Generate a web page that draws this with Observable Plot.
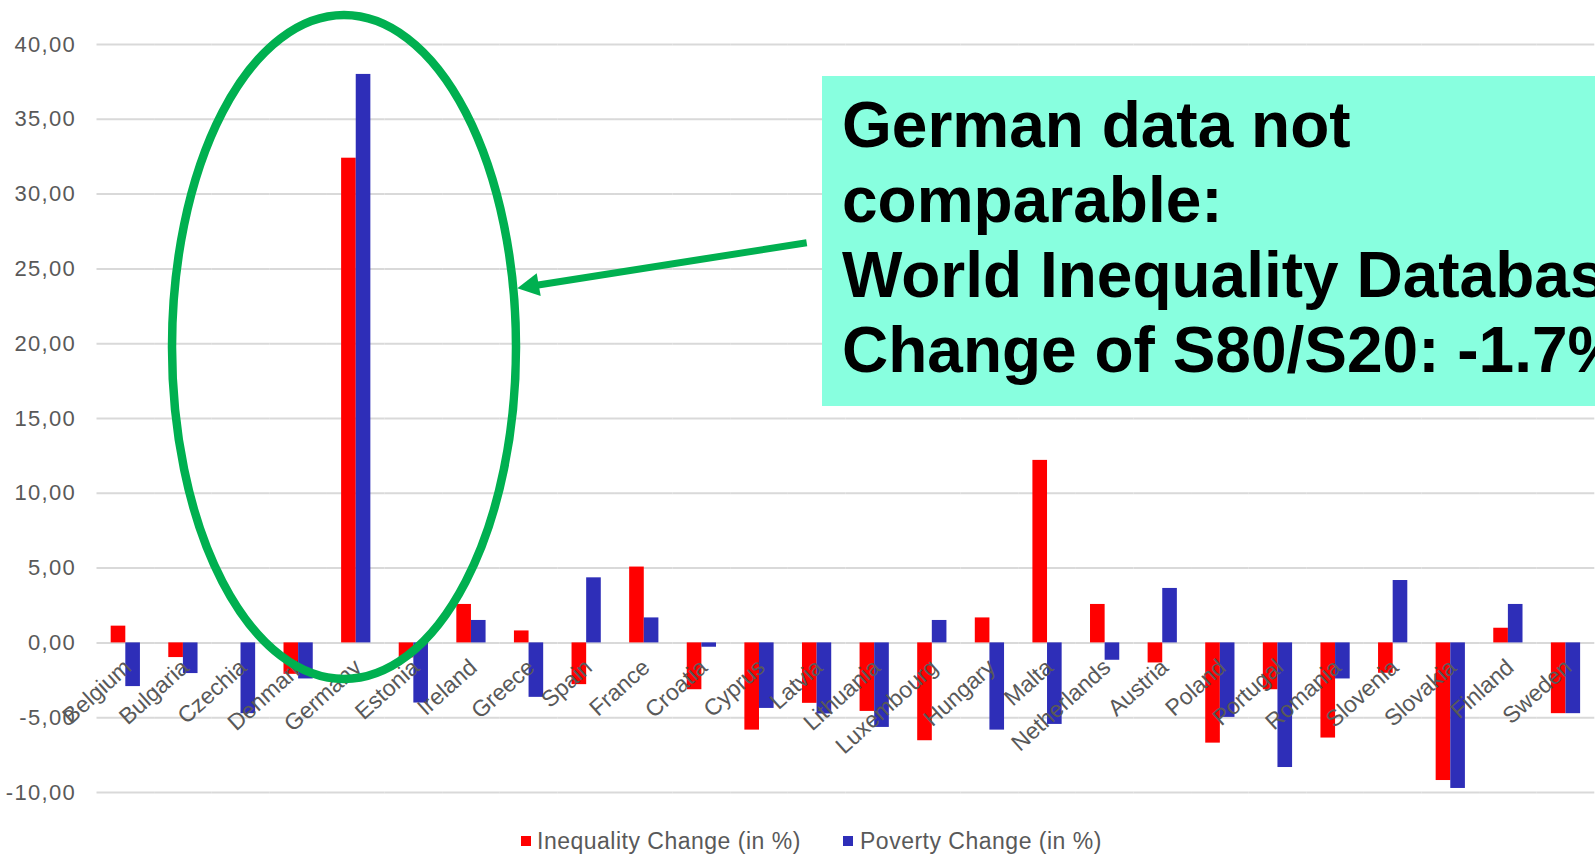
<!DOCTYPE html>
<html><head><meta charset="utf-8">
<script src="https://cdn.jsdelivr.net/npm/d3@7"></script>
<script src="https://cdn.jsdelivr.net/npm/@observablehq/plot@0.6"></script>
<style>
html,body{margin:0;padding:0;background:#fff;overflow:hidden;}
#wrap{position:relative;width:1595px;height:858px;overflow:hidden;font-family:"Liberation Sans",Arial,sans-serif;}
#chart{position:absolute;left:0;top:0;}
#note{position:absolute;left:822px;top:76px;width:800px;height:330px;background:#88ffdf;box-sizing:border-box;padding:12.2px 0 0 20px;font-weight:bold;font-size:64px;line-height:75px;white-space:nowrap;color:#000;}
.lg{position:absolute;top:829px;height:24px;line-height:24px;font-size:23px;letter-spacing:0.5px;color:#595959;white-space:nowrap;}
.sw{position:absolute;top:836px;width:10px;height:10px;}
#overlay{position:absolute;left:0;top:0;pointer-events:none;}
</style></head>
<body>
<div id="wrap">
  <div id="chart"></div>
  <div id="note">German data not<br>comparable:<br>World Inequality Database<br>Change of S80/S20: -1.7%</div>
  <div id="legend"></div>
  <svg id="overlay" width="1595" height="858"></svg>
</div>
<script>
const countries = ["Belgium","Bulgaria","Czechia","Denmark","Germany","Estonia","Ireland","Greece","Spain","France","Croatia","Cyprus","Latvia","Lithuania","Luxembourg","Hungary","Malta","Netherlands","Austria","Poland","Portugal","Romania","Slovenia","Slovakia","Finland","Sweden"];
const inequality = [1.12,-0.98,0,-2.1,32.4,-1.0,2.57,0.80,-2.79,5.07,-3.13,-5.83,-4.04,-4.58,-6.54,1.67,12.2,2.57,-1.34,-6.70,-3.13,-6.36,-2.03,-9.20,0.98,-4.73];
const poverty = [-2.92,-2.05,-4.73,-2.41,38.0,-4.02,1.50,-3.64,4.35,1.67,-0.29,-4.38,-4.75,-5.65,1.50,-5.83,-5.45,-1.16,3.64,-4.98,-8.33,-2.41,4.17,-9.73,2.57,-4.73];
const seriesNames = ["Inequality Change (in %)","Poverty Change (in %)"];
const seriesColors = ["#ff0000","#2e2eb8"];
const yTicks = [-10,-5,0,5,10,15,20,25,30,35,40];

const rows = countries.flatMap((c,i)=>[
  {country:c, series:seriesNames[0], value:inequality[i]},
  {country:c, series:seriesNames[1], value:poverty[i]}
]);
const labelRows = countries.map(c=>({country:c, base:0}));
const fmt = d => d.toFixed(2).replace(".", ",");

const chart = Plot.plot({
  width:1595, height:806,
  marginLeft:96.5, marginRight:0.7, marginTop:44, marginBottom:14,
  style:{fontFamily:'"Liberation Sans", Arial, sans-serif', fontSize:"22px", color:"#595959", letterSpacing:"1.3px", background:"transparent"},
  fx:{domain:countries, padding:0, round:false, axis:null, label:null},
  x:{domain:seriesNames, paddingInner:0, paddingOuter:0.97, round:false, axis:null},
  y:{domain:[-10,40], label:null},
  color:{domain:seriesNames, range:seriesColors},
  marks:[
    Plot.gridY(yTicks, {stroke:"#d9d9d9", strokeOpacity:1, strokeWidth:2}),
    Plot.axisY(yTicks, {tickFormat:fmt, tickSize:0, tickPadding:21, label:null, fontSize:22}),
    Plot.barY(rows, {fx:"country", x:"series", y:"value", fill:"series", insetLeft:0, insetRight:0}),
    Plot.text(labelRows, {fx:"country", y:"base", text:"country", rotate:-42, textAnchor:"end", dx:2, dy:21, fontSize:23, fill:"#595959"})
  ]
});
document.getElementById("chart").appendChild(chart);
d3.select(chart).selectAll('g[aria-label="text"] text').style("letter-spacing","0px");

// legend
const leg = document.getElementById("legend");
const legPos = [{sw:521, tx:537}, {sw:843, tx:860}];
seriesNames.forEach((s,i)=>{
  const sw = document.createElement("div"); sw.className="sw"; sw.style.left=legPos[i].sw+"px"; sw.style.background=seriesColors[i]; leg.appendChild(sw);
  const t = document.createElement("div"); t.className="lg"; t.style.left=legPos[i].tx+"px"; t.textContent=s; leg.appendChild(t);
});

// annotation overlay: green ellipse and arrow
const ns = "http://www.w3.org/2000/svg";
const ov = document.getElementById("overlay");
const green = "#00b050";
const el = document.createElementNS(ns,"ellipse");
el.setAttribute("cx",344); el.setAttribute("cy",347); el.setAttribute("rx",172); el.setAttribute("ry",332);
el.setAttribute("fill","none"); el.setAttribute("stroke",green); el.setAttribute("stroke-width",8.5);
ov.appendChild(el);
const ln = document.createElementNS(ns,"line");
ln.setAttribute("x1",806.7); ln.setAttribute("y1",242.7); ln.setAttribute("x2",535); ln.setAttribute("y2",285.5);
ln.setAttribute("stroke",green); ln.setAttribute("stroke-width",7);
ov.appendChild(ln);
const hd = document.createElementNS(ns,"polygon");
hd.setAttribute("points","517.3,288.3 536.7,273.3 540.7,296");
hd.setAttribute("fill",green);
ov.appendChild(hd);
</script>
</body></html>
